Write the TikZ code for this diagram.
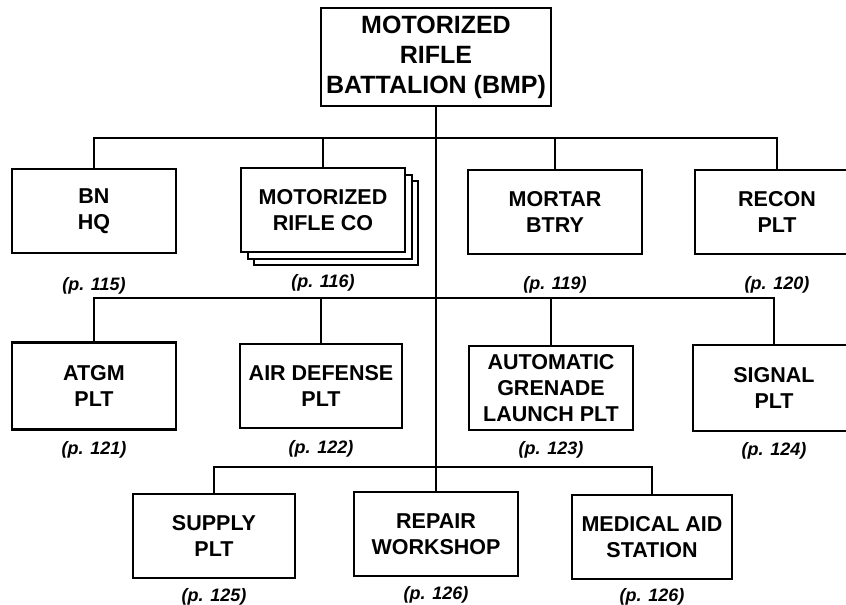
\documentclass[tikz,border=0pt]{standalone}
\usepackage{fontspec}
\setmainfont{Liberation Sans}
\usetikzlibrary{
    positioning
}

\begin{document}
\begin{tikzpicture}[
    x=1pt,
    y=-1pt,
    line width=2.2pt,
    unit/.style={
        rectangle,
        draw,
        fill=white,
        align=center,
        inner sep=0pt,
        minimum width=164pt,
        minimum height=84pt,
        font=\bfseries\fontsize{21.5}{26}\selectfont
    },
    topunit/.style={
        unit,
        minimum width=230pt,
        minimum height=98pt,
        font=\bfseries\fontsize{25}{30}\selectfont
    },
    pageref/.style={
        inner sep=0pt,
        font=\bfseries\itshape\fontsize{18}{20}\selectfont
    }
]

\useasboundingbox (0,0) rectangle (846,605);
\clip (0,0) rectangle (846,605);

%--------------------------------------------------
\node[topunit] (bn) at (436,57)
{
MOTORIZED\\
RIFLE\\
BATTALION (BMP)
};

% first row
\node[unit] (hq) at (94,211)
{
BN\\
HQ
};

\node[unit] (mrc3) at (336,223) {};
\node[unit] (mrc2) at (330,217) {};
\node[unit] (mrc) at (323,210)
{
MOTORIZED\\
RIFLE CO
};

\node[unit,minimum width=174pt] (mortar) at (555,212)
{
MORTAR\\
BTRY
};

\node[unit] (recon) at (777,212)
{
RECON\\
PLT
};

% second row
\node[unit,minimum height=87pt] (atgm) at (94,386)
{
ATGM\\
PLT
};

\node[unit,minimum width=162pt] (airdef) at (321,386)
{
AIR DEFENSE\\
PLT
};

\node[unit,minimum height=84pt] (agl) at (551,388)
{
AUTOMATIC\\
GRENADE\\
LAUNCH PLT
};

\node[unit,minimum width=162pt,minimum height=86pt] (signal) at (774,388)
{
SIGNAL\\
PLT
};

% third row
\node[unit,minimum width=162pt] (supply) at (214,536)
{
SUPPLY\\
PLT
};

\node[unit] (repair) at (436,534)
{
REPAIR\\
WORKSHOP
};

\node[unit,minimum width=160pt] (medical) at (652,537)
{
MEDICAL AID\\
STATION
};

% page numbers
\node[pageref,below=22pt of hq] (hq_p) {(p. 115)};
\node[pageref,below=20pt of mrc] (mrc_p) {(p. 116)};
\node[pageref,below=20pt of mortar] (mortar_p) {(p. 119)};
\node[pageref,below=20pt of recon] (recon_p) {(p. 120)};

\node[pageref,below=10pt of atgm] (atgm_p) {(p. 121)};
\node[pageref,below=10pt of airdef] (airdef_p) {(p. 122)};
\node[pageref,below=9pt of agl] (agl_p) {(p. 123)};
\node[pageref,below=9pt of signal] (signal_p) {(p. 124)};

\node[pageref,below=8pt of supply] (supply_p) {(p. 125)};
\node[pageref,below=8pt of repair] (repair_p) {(p. 126)};
\node[pageref,below=7pt of medical] (medical_p) {(p. 126)};

%--------------------------------------------------
\coordinate (bus1) at (436,138);
\coordinate (bus2) at (436,298);
\coordinate (bus3) at (436,467);

\draw (bn) -- (repair);

\draw (hq.north) |- (bus1) -| (recon.north);
\draw (mrc.north) -- (mrc.north |- bus1);
\draw (mortar.north) -- (mortar.north |- bus1);

\draw (atgm.north) |- (bus2) -| (signal.north);
\draw (airdef.north) -- (airdef.north |- bus2);
\draw (agl.north) -- (agl.north |- bus2);

\draw (supply.north) |- (bus3) -| (medical.north);

\end{tikzpicture}
\end{document}
